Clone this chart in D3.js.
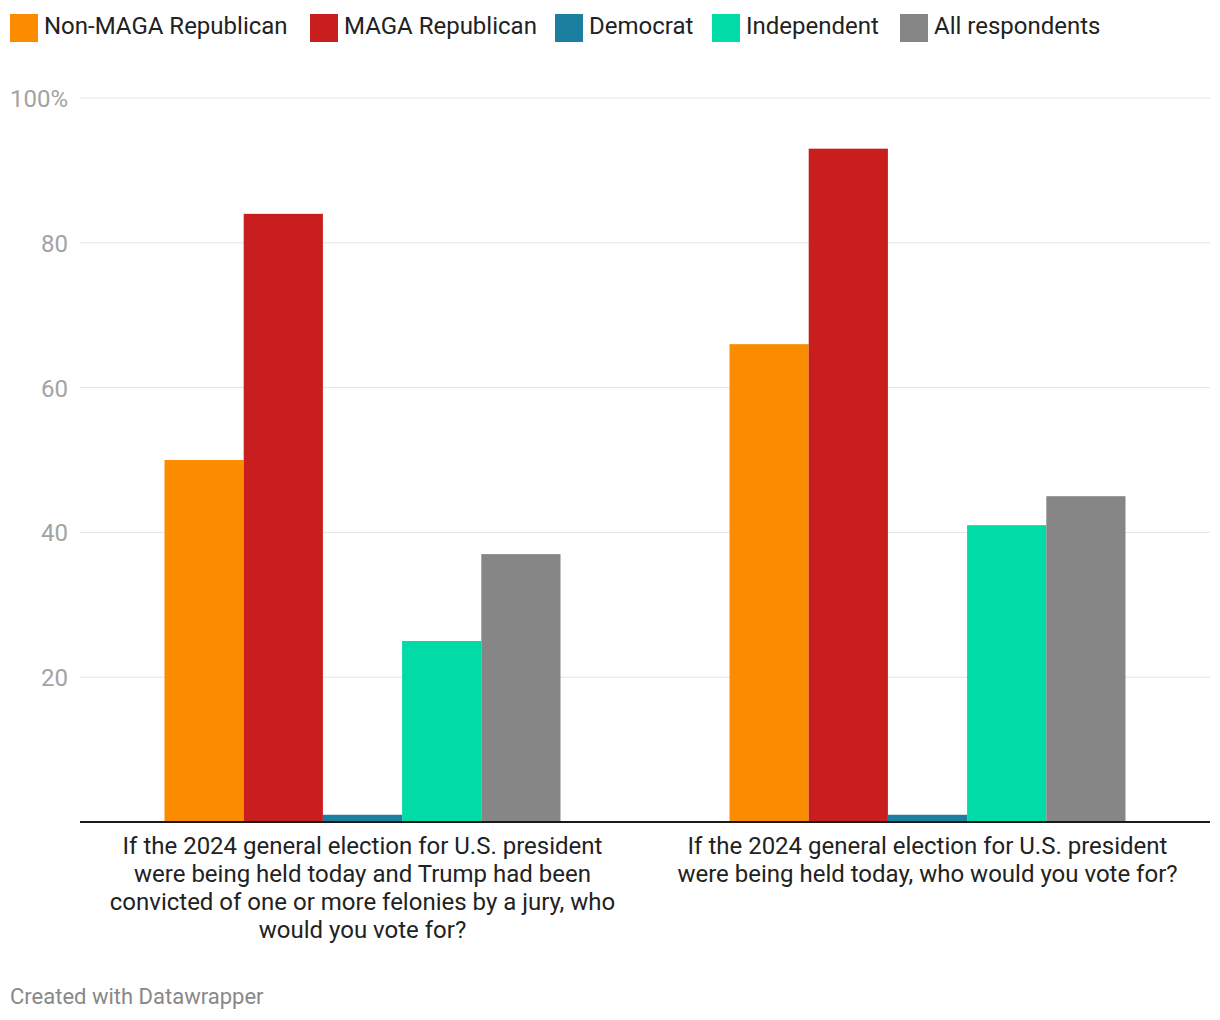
<!DOCTYPE html>
<html>
<head>
<meta charset="utf-8">
<script src="https://cdn.jsdelivr.net/npm/d3@7"></script>
<style>
  html, body { margin: 0; padding: 0; background: #fff; }
  svg { display: block; font-family: Roboto, "Noto Sans", sans-serif; }
</style>
</head>
<body>
<svg id="chart" width="1220" height="1020"></svg>
<script>
const categories = [
  "If the 2024 general election for U.S. president were being held today and Trump had been convicted of one or more felonies by a jury, who would you vote for?",
  "If the 2024 general election for U.S. president were being held today, who would you vote for?"
];
const categoryLines = [
  ["If the 2024 general election for U.S. president", "were being held today and Trump had been", "convicted of one or more felonies by a jury, who", "would you vote for?"],
  ["If the 2024 general election for U.S. president", "were being held today, who would you vote for?"]
];
const seriesNames = ["Non-MAGA Republican", "MAGA Republican", "Democrat", "Independent", "All respondents"];
const seriesColors = ["#fb8c00", "#c91e1e", "#1d7fa0", "#00dba8", "#868686"];
const nonMaga = [50, 66];
const maga = [84, 93];
const democrat = [1, 1];
const independent = [25, 41];
const allRespondents = [37, 45];
const seriesValues = [nonMaga, maga, democrat, independent, allRespondents];
const yTicks = [20, 40, 60, 80, 100];

const svg = d3.select("#chart");

// Legend
const legendX = [10, 310, 555, 712, 900];
const legend = svg.append("g");
seriesNames.forEach((name, i) => {
  const g = legend.append("g").attr("transform", `translate(${legendX[i]},14)`);
  g.append("rect").attr("width", 28).attr("height", 28).attr("fill", seriesColors[i]);
  g.append("text").attr("x", 34).attr("y", 20).attr("font-size", 24)
    .attr("fill", "#222").text(name);
});

// Scales
const plotLeft = 80, plotRight = 1210, plotTop = 98, plotBottom = 822;
const y = d3.scaleLinear().domain([0, 100]).range([plotBottom, plotTop]);
const x0 = d3.scaleBand().domain(d3.range(categories.length)).range([plotLeft, plotRight]).paddingInner(0).paddingOuter(0);
const groupWidth = 396;
const x1 = d3.scaleBand().domain(d3.range(seriesNames.length)).range([0, groupWidth]);

// Gridlines
const grid = svg.append("g");
yTicks.forEach(t => {
  grid.append("line").attr("x1", plotLeft).attr("x2", plotRight)
    .attr("y1", y(t)).attr("y2", y(t)).attr("stroke", "#e3e3e3").attr("stroke-width", 1);
  grid.append("text").attr("x", 68).attr("y", y(t) + 9).attr("text-anchor", "end")
    .attr("font-size", 24).attr("fill", "#a3a3a3").text(t === 100 ? "100%" : t);
});

// Bars
const bars = svg.append("g");
categories.forEach((c, ci) => {
  const gx = x0(ci) + (x0.bandwidth() - groupWidth) / 2;
  seriesValues.forEach((vals, si) => {
    bars.append("rect")
      .attr("x", gx + x1(si))
      .attr("y", y(vals[ci]))
      .attr("width", x1.bandwidth())
      .attr("height", y(0) - y(vals[ci]))
      .attr("fill", seriesColors[si]);
  });
});

// Baseline
svg.append("line").attr("x1", plotLeft).attr("x2", plotRight)
  .attr("y1", plotBottom).attr("y2", plotBottom).attr("stroke", "#1a1a1a").attr("stroke-width", 2);

// Category labels
categoryLines.forEach((lines, ci) => {
  const cx = x0(ci) + x0.bandwidth() / 2;
  const t = svg.append("text").attr("text-anchor", "middle").attr("font-size", 24).attr("fill", "#222");
  lines.forEach((ln, li) => {
    t.append("tspan").attr("x", cx).attr("y", 854 + li * 28).text(ln);
  });
});

// Footer
svg.append("text").attr("x", 10).attr("y", 1004).attr("font-size", 22).attr("fill", "#888")
  .text("Created with Datawrapper");
</script>
</body>
</html>
